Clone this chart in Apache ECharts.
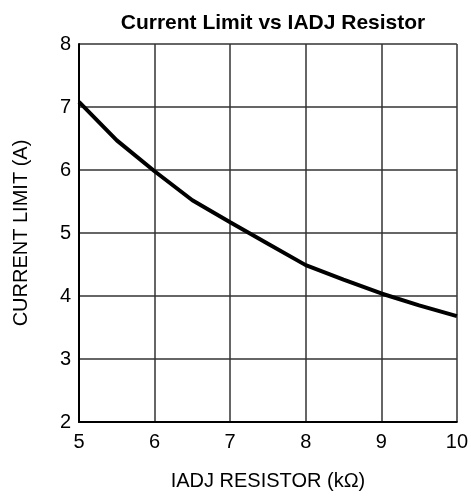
<!DOCTYPE html>
<html>
<head>
<meta charset="utf-8">
<script src="https://cdn.jsdelivr.net/npm/echarts@6/dist/echarts.min.js"></script>
<style>
  html, body { margin: 0; padding: 0; background: #fff; }
  #chart { width: 471px; height: 496px; }
</style>
</head>
<body>
<div id="chart"></div>
<script>
// IADJ resistor (kOhm) vs current limit (A)
const resistorK = [5, 5.5, 6, 6.5, 7, 7.5, 8, 8.5, 9, 9.5, 10];
const currentA = [7.08, 6.47, 5.98, 5.52, 5.17, 4.83, 4.49, 4.26, 4.04, 3.85, 3.68];

let myChart = echarts.init(document.getElementById('chart'));
myChart.setOption({
  animation: false,
  title: {
    text: 'Current Limit vs IADJ Resistor',
    left: 268,
    textAlign: 'center',
    top: 8,
    textStyle: {
      fontFamily: 'Liberation Sans',
      fontSize: 21,
      fontWeight: 'bold',
      color: '#000'
    }
  },
  grid: {
    left: 79,
    right: 12,
    top: 44,
    bottom: 74
  },
  xAxis: {
    type: 'value',
    min: 5,
    max: 10,
    interval: 1,
    name: 'IADJ RESISTOR (kΩ)',
    nameLocation: 'middle',
    nameGap: 49,
    nameTextStyle: {
      fontFamily: 'Liberation Sans',
      fontSize: 20,
      color: '#000'
    },
    axisLine: { lineStyle: { color: '#000', width: 2 } },
    axisTick: { show: false },
    axisLabel: {
      fontFamily: 'Liberation Sans',
      fontSize: 20,
      color: '#000',
      margin: 10
    },
    splitLine: { lineStyle: { color: '#333', width: 1.5 } }
  },
  yAxis: {
    type: 'value',
    min: 2,
    max: 8,
    interval: 1,
    name: 'CURRENT LIMIT (A)',
    nameLocation: 'middle',
    nameGap: 48,
    nameTextStyle: {
      fontFamily: 'Liberation Sans',
      fontSize: 20,
      color: '#000'
    },
    axisLine: { show: true, lineStyle: { color: '#000', width: 2 } },
    axisTick: { show: false },
    axisLabel: {
      fontFamily: 'Liberation Sans',
      fontSize: 20,
      color: '#000',
      margin: 8
    },
    splitLine: { lineStyle: { color: '#333', width: 1.5 } }
  },
  series: [{
    type: 'line',
    data: resistorK.map((r, i) => [r, currentA[i]]),
    showSymbol: false,
    lineStyle: { color: '#000', width: 4 },
    clip: true
  }]
});
</script>
</body>
</html>
